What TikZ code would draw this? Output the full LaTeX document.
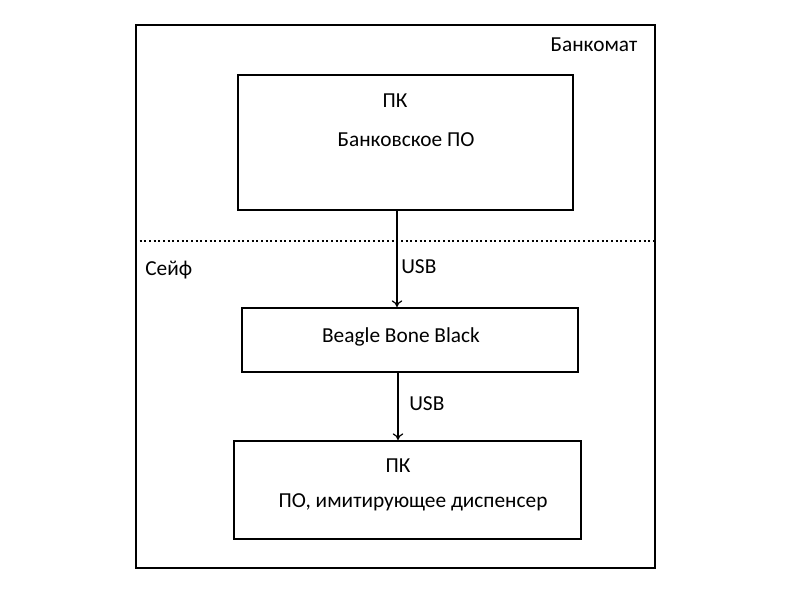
\documentclass[tikz,border=0pt]{standalone}
\usepackage{fontspec}
\setmainfont{Carlito}
\usetikzlibrary{arrows.meta}
\tikzset{box/.style={draw, line width=1.5pt, inner sep=0pt}}

\begin{document}
\begin{tikzpicture}[x=0.75pt, y=-0.75pt, font=\fontsize{16}{19}\selectfont,
  usb/.style={line width=0.9pt, -{To[length=5pt, width=8pt]}}]
  \useasboundingbox (0,0) rectangle (800,600);
  % boxes
  \node[box, minimum width=519*0.75pt, minimum height=543*0.75pt] (atm) at (395.5,296.5) {};
  \node[box, minimum width=335*0.75pt, minimum height=135*0.75pt] (pc) at (405.5,142.5) {};
  \node[box, minimum width=336*0.75pt, minimum height=64*0.75pt] (bbb) at (410,340) {};
  \node[box, minimum width=347*0.75pt, minimum height=98*0.75pt] (emu) at (407.5,490) {};
  % texts
  \node (atmname) at (594,45) {Банкомат};
  \node[anchor=west, inner sep=0pt] (safename) at (145,270) {Сейф};
  \node (pcname) at (395,101) {ПК};
  \node (pcsoft) at (406,140) {Банковское ПО};
  \node (bbbname) at (401,337) {Beagle Bone Black};
  \node (emuname) at (398,466) {ПК};
  \node (emusoft) at (413,502) {ПО, имитирующее диспенсер};
  % safe boundary
  \coordinate (cut) at (0,241);
  \draw[dotted, line width=1.5pt] (atm.west |- cut) -- (atm.east |- cut);
  % links
  \coordinate (l1) at (397,0);
  \coordinate (l2) at (398,0);
  \draw[usb] (pc.south -| l1) -- (bbb.north -| l1);
  \draw[usb] (bbb.south -| l2) -- (emu.north -| l2);
  \node[anchor=west, inner sep=0pt] (usbone) at (401,267) {USB};
  \node[anchor=west, inner sep=0pt] (usbtwo) at (409,404) {USB};
\end{tikzpicture}
\end{document}
